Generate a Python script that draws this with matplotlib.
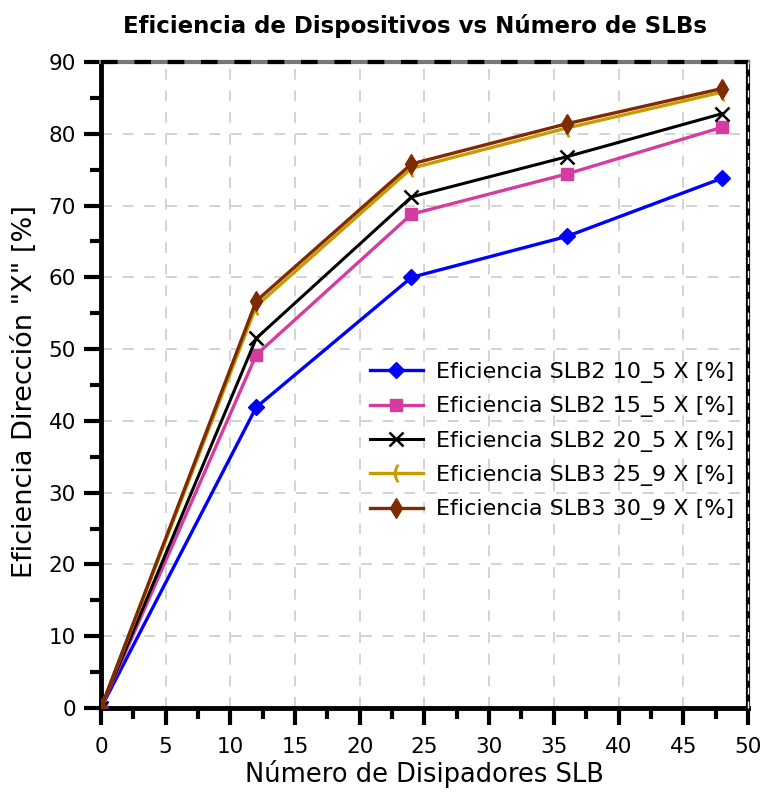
import numpy as np
import matplotlib.pyplot as plt
from matplotlib.ticker import MultipleLocator

plt.rcParams["font.family"] = ["DejaVu Sans"]

x = [0, 12, 24, 36, 48]
slb2_10_5 = [0, 41.9, 60.0, 65.7, 73.8]
slb2_15_5 = [0, 49.2, 68.8, 74.4, 80.9]
slb2_20_5 = [0, 51.5, 71.2, 76.8, 82.8]
slb3_25_9 = [0, 56.0, 75.2, 80.8, 85.8]
slb3_30_9 = [0, 56.7, 75.8, 81.4, 86.3]

labels = [
    "Eficiencia SLB2 10_5 X [%]",
    "Eficiencia SLB2 15_5 X [%]",
    "Eficiencia SLB2 20_5 X [%]",
    "Eficiencia SLB3 25_9 X [%]",
    "Eficiencia SLB3 30_9 X [%]",
]

fig = plt.figure(figsize=(7.62, 7.98), dpi=100)
ax = fig.add_axes([0.1325, 0.1128, 0.849, 0.8095])

ax.plot(x, slb2_10_5, color="#0000ff", lw=2.4, marker="D", ms=8, label=labels[0], zorder=3)
ax.plot(x, slb2_15_5, color="#d63ca0", lw=2.4, marker="s", ms=8, label=labels[1], zorder=3)
ax.plot(x, slb2_20_5, color="black", lw=2.2, marker="x", ms=10, mew=1.8, label=labels[2], zorder=3)
ax.plot(x, slb3_25_9, color="#c99a00", lw=2.4, marker="$($", ms=12, label=labels[3], zorder=3)
ax.plot(x, slb3_30_9, color="#7f2a00", lw=2.4, marker="d", ms=10, label=labels[4], zorder=4)

ax.set_xlim(0, 50)
ax.set_ylim(0, 90)
ax.xaxis.set_major_locator(MultipleLocator(5))
ax.xaxis.set_minor_locator(MultipleLocator(2.5))
ax.yaxis.set_major_locator(MultipleLocator(10))
ax.yaxis.set_minor_locator(MultipleLocator(5))
ax.tick_params(which="major", direction="out", length=12, width=3, labelsize=15.5)
ax.tick_params(which="minor", direction="out", length=8, width=3)
ax.tick_params(axis="x", which="major", pad=9)
ax.tick_params(axis="y", which="major", pad=6)

ax.grid(True, which="major", color="#d0d0d0", ls=(0, (6, 6)), lw=1.3)

for s in ("left", "bottom"):
    ax.spines[s].set_linewidth(3.5)
ax.spines["top"].set_color("#777777")
ax.spines["top"].set_linewidth(3)
ax.spines["right"].set_linewidth(3)
# dashed overlays on the top and right borders
ax.plot([0, 1], [1, 1], transform=ax.transAxes, color="black", lw=3,
        ls=(0, (4, 4)), clip_on=False, zorder=5)
ax.plot([1, 1], [0, 1], transform=ax.transAxes, color="white", lw=1,
        ls=(0, (5, 5)), clip_on=False, zorder=5)

ax.set_xlabel("Número de Disipadores SLB", fontsize=18.5)
ax.xaxis.set_label_coords(0.5, -0.08)
ax.set_ylabel('Eficiencia Dirección "X" [%]', fontsize=19.5)
ax.yaxis.set_label_coords(-0.097, 0.49)
fig.suptitle("Eficiencia de Dispositivos vs Número de SLBs", fontsize=16.5,
             fontweight="bold", x=0.545, y=0.983)

ax.legend(loc="center right", bbox_to_anchor=(1.0, 0.413), frameon=False,
          fontsize=16, handlelength=2.4, labelspacing=0.6, borderaxespad=0.2,
          handletextpad=0.6)

fig.savefig("out.png", dpi=100)
